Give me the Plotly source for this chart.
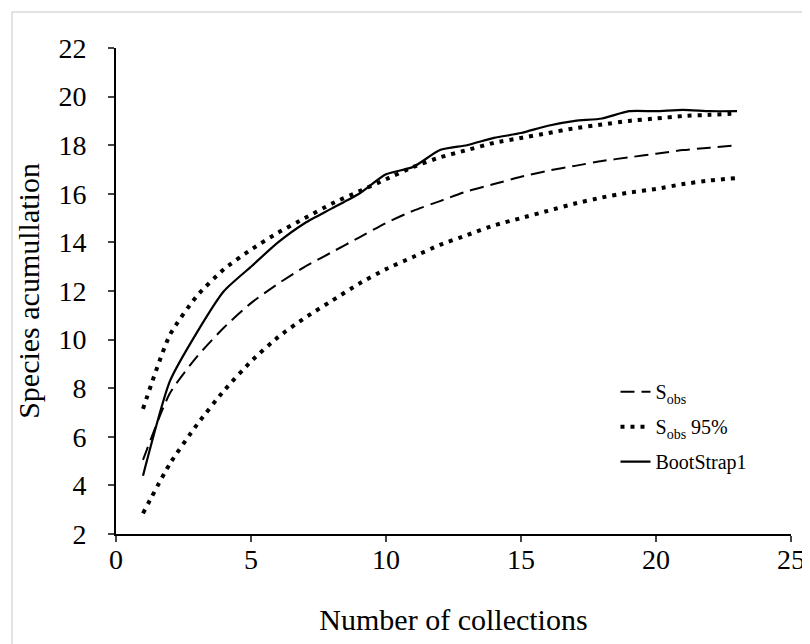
import plotly.graph_objects as go

collections = list(range(1, 24))
sobs = [5.05, 7.8, 9.3, 10.5, 11.5, 12.3, 13.0, 13.6, 14.2, 14.8, 15.3, 15.7, 16.1,
        16.4, 16.7, 16.95, 17.15, 17.35, 17.5, 17.65, 17.8, 17.9, 18.0]
sobs_upper = [7.15, 10.2, 11.8, 12.9, 13.7, 14.4, 15.0, 15.6, 16.1, 16.6, 17.1, 17.5, 17.8,
              18.1, 18.3, 18.5, 18.7, 18.85, 19.0, 19.1, 19.2, 19.25, 19.3]
sobs_lower = [2.85, 4.9, 6.5, 7.9, 9.1, 10.1, 10.9, 11.6, 12.3, 12.9, 13.4, 13.9, 14.3,
              14.7, 15.0, 15.3, 15.6, 15.85, 16.05, 16.2, 16.4, 16.55, 16.65]
bootstrap = [4.4, 8.3, 10.3, 12.0, 13.0, 14.0, 14.8, 15.4, 16.0, 16.8, 17.1, 17.8, 18.0,
             18.3, 18.5, 18.8, 19.0, 19.1, 19.4, 19.4, 19.45, 19.4, 19.4]

x_ticks = [0, 5, 10, 15, 20, 25]
y_ticks = [2, 4, 6, 8, 10, 12, 14, 16, 18, 20, 22]

FONT = "Times New Roman, Liberation Serif, DejaVu Serif, serif"

fig = go.Figure()
fig.add_trace(go.Scatter(x=collections, y=sobs, mode="lines", name="S<sub>obs</sub>",
                         legendgroup="a",
                         line=dict(color="black", width=2, dash="14px,7px",
                                   shape="spline", smoothing=0.6)))
fig.add_trace(go.Scatter(x=collections, y=sobs_upper, mode="lines", name="S<sub>obs</sub> 95%",
                         legendgroup="b",
                         line=dict(color="black", width=4, dash="4px,6px",
                                   shape="spline", smoothing=0.6)))
fig.add_trace(go.Scatter(x=collections, y=sobs_lower, mode="lines", name="S<sub>obs</sub> 95%",
                         legendgroup="b", showlegend=False,
                         line=dict(color="black", width=4, dash="4px,6px",
                                   shape="spline", smoothing=0.6)))
fig.add_trace(go.Scatter(x=collections, y=bootstrap, mode="lines", name="BootStrap1",
                         legendgroup="c",
                         line=dict(color="black", width=2.2, shape="spline", smoothing=0.6)))

fig.update_layout(
    width=802, height=636,
    margin=dict(l=108, r=19, t=40, b=110),
    paper_bgcolor="white", plot_bgcolor="white",
    font=dict(family=FONT, color="black", size=24),
    legend=dict(x=0.74, y=0.333, xanchor="left", yanchor="top",
                bgcolor="rgba(0,0,0,0)", font=dict(size=20, family=FONT, color="black"),
                tracegroupgap=6),
    shapes=[dict(type="rect", xref="paper", yref="paper",
                 x0=-0.154, x1=1.2, y0=-0.4, y1=1.074,
                 line=dict(color="#d9d9d9", width=1.5), layer="below")],
)
fig.update_xaxes(range=[0, 25], tickvals=x_ticks, ticks="outside", ticklen=6, tickwidth=2,
                 showline=True, linewidth=2, linecolor="black", showgrid=False, zeroline=False,
                 automargin=False,
                 tickfont=dict(size=28, family=FONT, color="black"), ticklabelstandoff=-7,
                 title=dict(text="Number of collections",
                            font=dict(size=30, family=FONT, color="black"), standoff=35))
fig.update_yaxes(range=[2, 22], tickvals=y_ticks, ticks="outside", ticklen=6, tickwidth=2,
                 showline=True, linewidth=2, linecolor="black", showgrid=False, zeroline=False,
                 automargin=False,
                 tickfont=dict(size=28, family=FONT, color="black"), ticklabelstandoff=16,
                 title=dict(text="Species acumullation",
                            font=dict(size=30, family=FONT, color="black"), standoff=10))

fig.write_html("out.html")
